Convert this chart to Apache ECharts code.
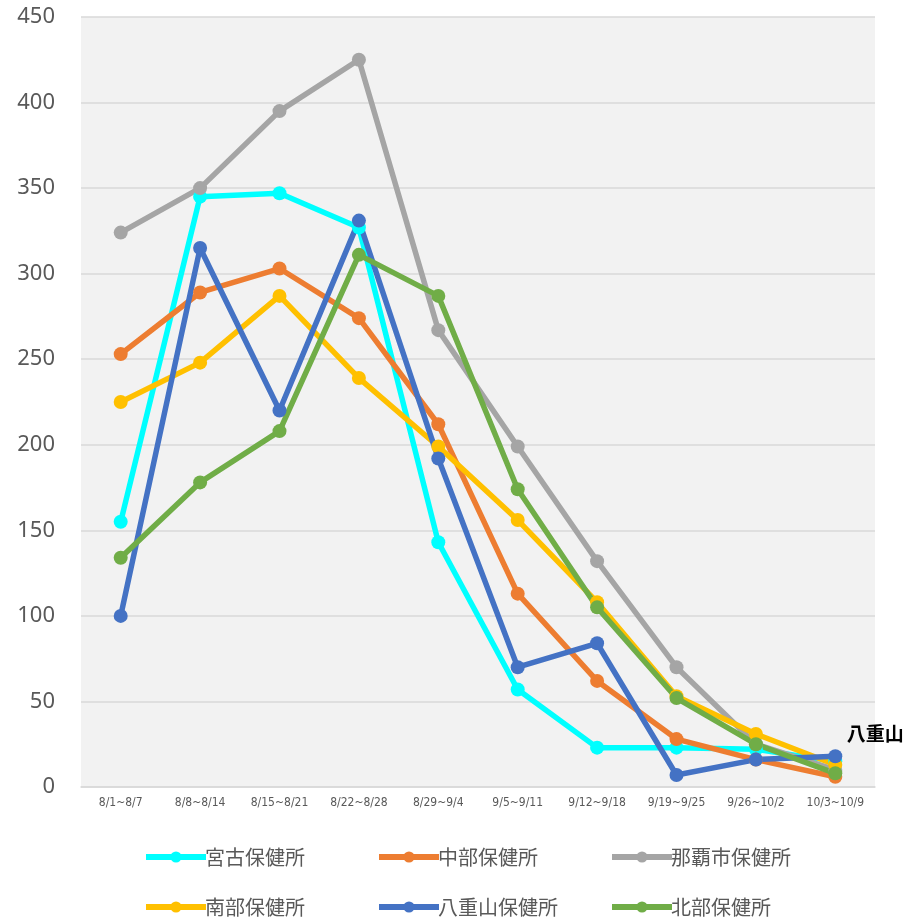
<!DOCTYPE html>
<html>
<head>
<meta charset="utf-8">
<script src="https://cdn.jsdelivr.net/npm/echarts/dist/echarts.min.js"></script>
<style>
html, body { margin: 0; padding: 0; background: #fff; }
#chart { width: 908px; height: 918px; }
</style>
</head>
<body>
<div id="chart"></div>
<script>
var weeks = ['8/1~8/7', '8/8~8/14', '8/15~8/21', '8/22~8/28', '8/29~9/4', '9/5~9/11', '9/12~9/18', '9/19~9/25', '9/26~10/2', '10/3~10/9'];

var miyako   = [155, 345, 347, 327, 143, 57, 23, 23, 22, 15];
var chubu    = [253, 289, 303, 274, 212, 113, 62, 28, 16, 6];
var naha     = [324, 350, 395, 425, 267, 199, 132, 70, 25, 10];
var nanbu    = [225, 248, 287, 239, 199, 156, 108, 53, 31, 13];
var yaeyama  = [100, 315, 220, 331, 192, 70, 84, 7, 16, 18];
var hokubu   = [134, 178, 208, 311, 287, 174, 105, 52, 25, 8];

var names  = ['宮古保健所', '中部保健所', '那覇市保健所', '南部保健所', '八重山保健所', '北部保健所'];
var colors = ['#00FFFF', '#ED7D31', '#A5A5A5', '#FFC000', '#4472C4', '#70AD47'];
var values = [miyako, chubu, naha, nanbu, yaeyama, hokubu];

var myChart = echarts.init(document.getElementById('chart'));

var seriesList = [];
for (var i = 0; i < names.length; i++) {
	var d = values[i].slice();
	if (names[i] === '八重山保健所') {
		var last = d.length - 1;
		d[last] = {
			value: d[last],
			label: {
				show: true,
				formatter: '八重山',
				position: 'top',
				offset: [40, -1],
				color: '#000',
				fontSize: 19,
				fontWeight: 'bold',
				fontFamily: 'Noto Sans CJK JP'
			}
		};
	}
	seriesList.push({
		name: names[i],
		type: 'line',
		data: d,
		symbol: 'circle',
		symbolSize: 14,
		color: colors[i],
		lineStyle: { width: 5.5, color: colors[i] },
		itemStyle: { color: colors[i] }
	});
}

// legend laid out in a 3 x 2 grid
var legendPos = [[143, 847], [376, 847], [609, 847], [143, 897], [376, 897], [609, 897]];
var legends = [];
for (var j = 0; j < names.length; j++) {
	legends.push({
		data: [names[j]],
		left: legendPos[j][0],
		top: legendPos[j][1],
		padding: 0,
		itemWidth: 60,
		itemHeight: 14,
		itemGap: 4,
		lineStyle: { width: 6 },
		textStyle: { color: '#595959', fontSize: 20, padding: [0, 0, 0, -6], fontFamily: 'Noto Sans CJK JP' }
	});
}

var option = {
	animation: false,
	backgroundColor: '#fff',
	grid: {
		left: 81,
		right: 33,
		top: 17,
		bottom: 131,
		show: true,
		backgroundColor: '#f2f2f2',
		borderWidth: 0
	},
	legend: legends,
	xAxis: {
		type: 'category',
		data: weeks,
		axisLine: { lineStyle: { color: '#d9d9d9', width: 1.5 } },
		axisTick: { show: false },
		axisLabel: {
			color: '#595959',
			fontSize: 12,
			margin: 10,
			interval: 0,
			fontFamily: 'Liberation Sans Narrow, DejaVu Sans Condensed, sans-serif'
		}
	},
	yAxis: {
		type: 'value',
		min: 0,
		max: 450,
		interval: 50,
		axisLine: { show: false },
		axisTick: { show: false },
		splitLine: { lineStyle: { color: '#d9d9d9', width: 1.5 } },
		axisLabel: {
			color: '#595959',
			fontSize: 22,
			margin: 26,
			fontFamily: 'Noto Sans, sans-serif'
		}
	},
	series: seriesList
};

myChart.setOption(option);
</script>
</body>
</html>
